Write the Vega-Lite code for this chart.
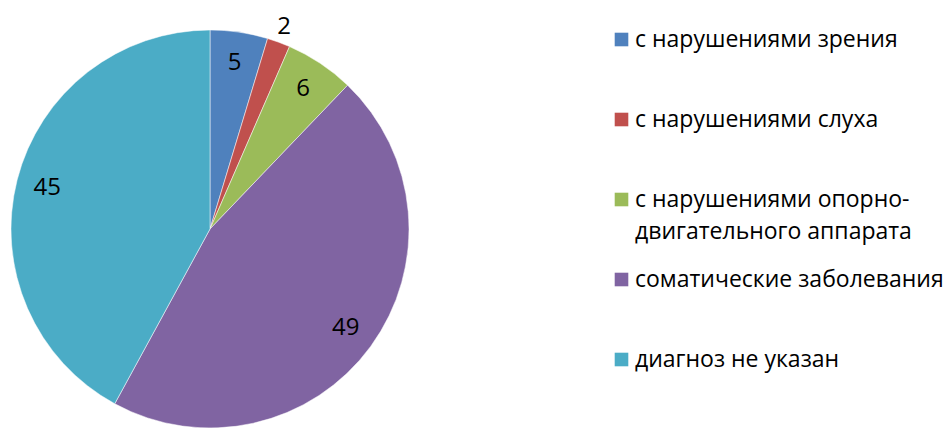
{
  "$schema": "https://vega.github.io/schema/vega-lite/v6.json",
  "width": 398,
  "height": 398,
  "autosize": "none",
  "padding": {"left": 11, "top": 30, "right": 539, "bottom": 0},
  "background": "white",
  "config": {
    "view": {"stroke": null},
    "font": "Open Sans",
    "style": {"guide-label": {"dy": 7, "lineHeight": 32}}
  },
  "data": {
    "values": [
      {"i": 1, "category": "с нарушениями зрения", "value": 5},
      {"i": 2, "category": "с нарушениями слуха", "value": 2},
      {"i": 3, "category": "с нарушениями опорно-двигательного аппарата", "value": 6},
      {"i": 4, "category": "соматические заболевания", "value": 49},
      {"i": 5, "category": "диагноз не указан", "value": 45}
    ]
  },
  "encoding": {
    "theta": {"field": "value", "type": "quantitative", "stack": true},
    "order": {"field": "i", "type": "quantitative"}
  },
  "layer": [
    {
      "mark": {"type": "arc", "stroke": "white", "strokeWidth": 0.5},
      "encoding": {
        "color": {
          "field": "category",
          "type": "nominal",
          "scale": {
            "domain": ["с нарушениями зрения", "с нарушениями слуха", "с нарушениями опорно-двигательного аппарата", "соматические заболевания", "диагноз не указан"],
            "range": ["#4F81BD", "#C0504D", "#9BBB59", "#8064A2", "#4BACC6"]
          },
          "legend": {
            "title": null,
            "orient": "none",
            "legendX": 599,
            "legendY": -2,
            "symbolType": "square",
            "symbolSize": 185,
            "symbolStrokeWidth": 0,
            "labelFontSize": 23,
            "labelFont": "Open Sans",
            "labelColor": "black",
            "labelBaseline": "alphabetic",
            "labelOffset": 2,
            "labelLimit": 400,
            "gridAlign": "all",
            "rowPadding": 24,
            "labelExpr": "datum.label == 'с нарушениями опорно-двигательного аппарата' ? ['с нарушениями опорно-', 'двигательного аппарата'] : datum.label"
          }
        }
      }
    },
    {
      "mark": {"type": "text", "radius": 168, "fontSize": 24, "font": "Open Sans", "color": "black"},
      "encoding": {
        "text": {"condition": {"test": "datum.value >= 5", "field": "value", "type": "quantitative"}, "value": ""}
      }
    },
    {
      "mark": {"type": "text", "radius": 215, "fontSize": 24, "font": "Open Sans", "color": "black"},
      "encoding": {
        "text": {"condition": {"test": "datum.value < 5", "field": "value", "type": "quantitative"}, "value": ""}
      }
    }
  ]
}
